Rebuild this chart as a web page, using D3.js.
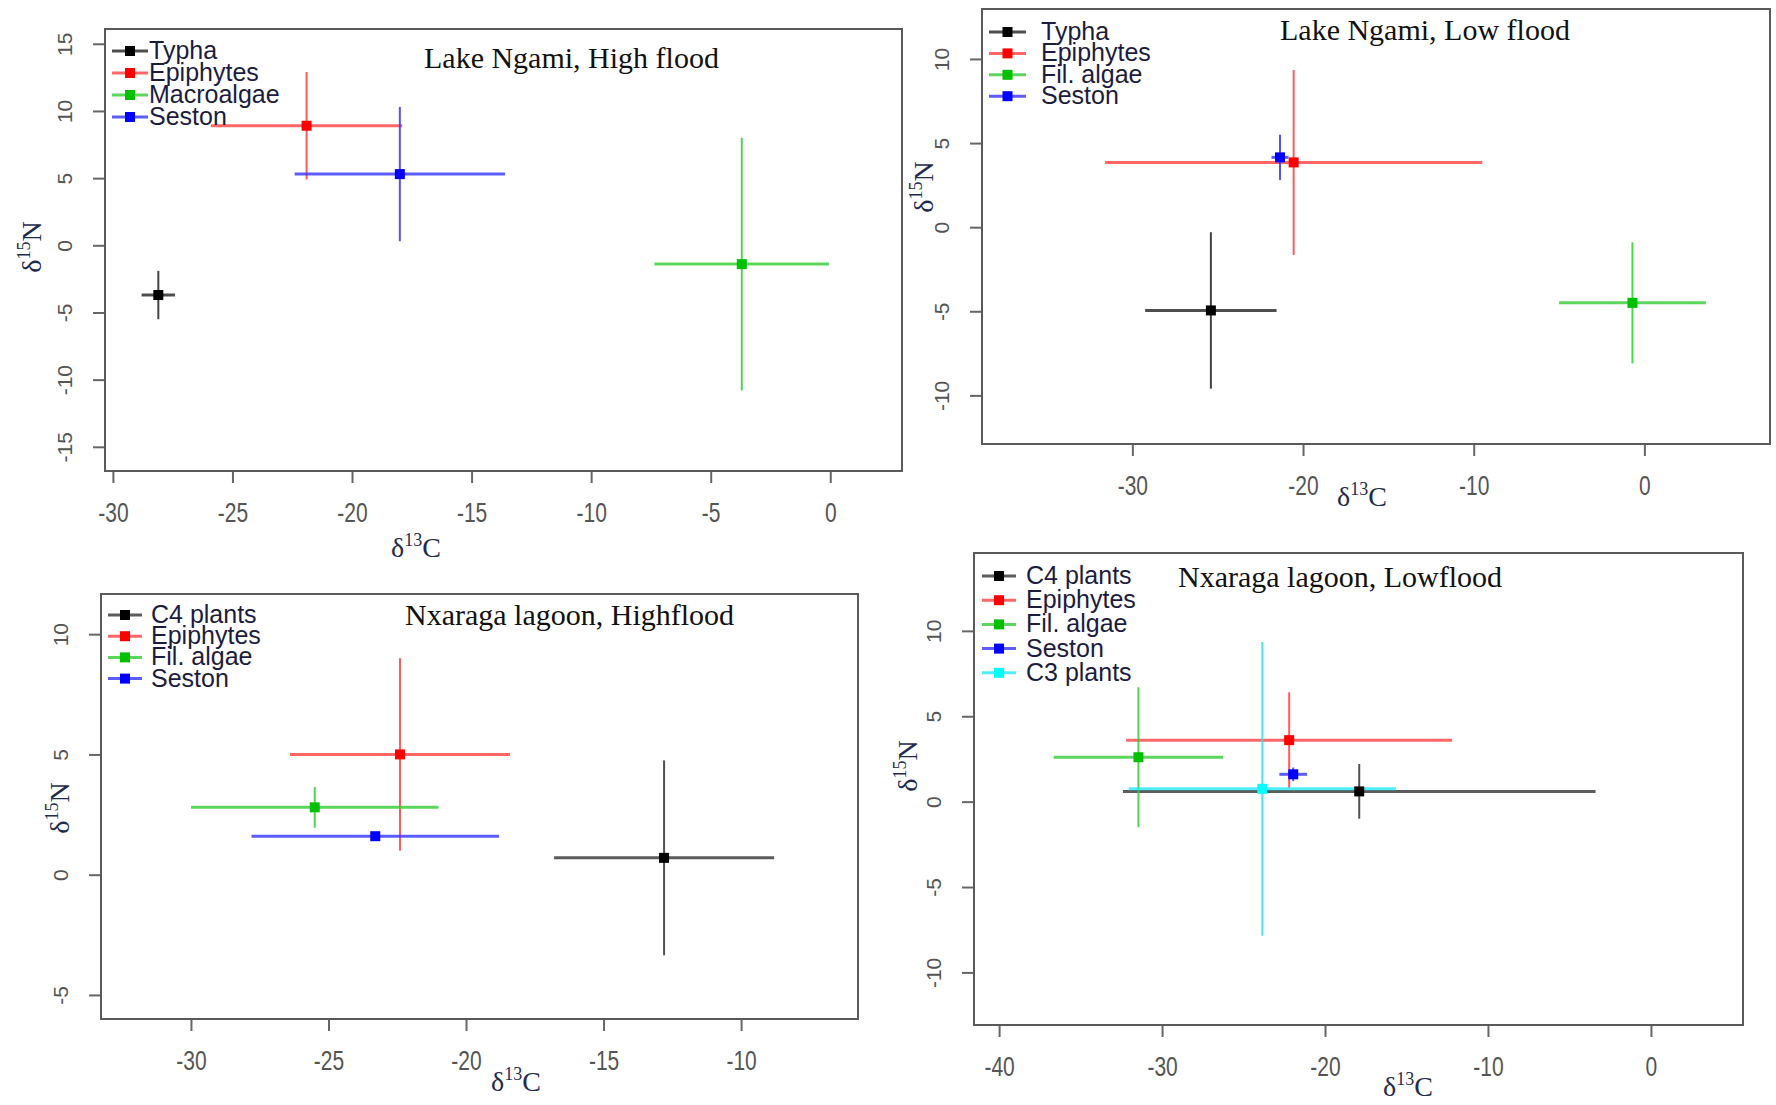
<!DOCTYPE html>
<html>
<head>
<meta charset="utf-8">
<script src="https://cdn.jsdelivr.net/npm/d3@7"></script>
<style>
  body { margin: 0; background: #fff; }
  text { font-family: 'Liberation Sans', Arial, sans-serif; }
  .serif { font-family: 'Liberation Serif', 'Times New Roman', serif; }
</style>
</head>
<body>
<svg id="chart" width="1776" height="1105"></svg>
<script>
// Lake Ngami, High flood
let ngamiHighGroups = ['Typha', 'Epiphytes', 'Macroalgae', 'Seston']
let ngamiHighC = [-28.1, -21.9, -3.7, -18.0]
let ngamiHighN = [-3.7, 8.9, -1.4, 5.3]
let ngamiHighSdC = [0.7, 4.0, 3.65, 4.4]
let ngamiHighSdN = [1.8, 4.0, 9.4, 5.0]
let ngamiHighXTicks = [-30, -25, -20, -15, -10, -5, 0]
let ngamiHighYTicks = [-15, -10, -5, 0, 5, 10, 15]

// Lake Ngami, Low flood
let ngamiLowGroups = ['Typha', 'Epiphytes', 'Fil. algae', 'Seston']
let ngamiLowC = [-25.4, -20.55, -0.7, -21.35]
let ngamiLowN = [-4.95, 3.85, -4.5, 4.15]
let ngamiLowSdC = [3.85, 11.05, 4.3, 0.5]
let ngamiLowSdN = [4.65, 5.5, 3.6, 1.35]
let ngamiLowXTicks = [-30, -20, -10, 0]
let ngamiLowYTicks = [-10, -5, 0, 5, 10]

// Nxaraga lagoon, High flood
let nxHighGroups = ['C4 plants', 'Epiphytes', 'Fil. algae', 'Seston']
let nxHighC = [-12.8, -22.4, -25.5, -23.3]
let nxHighN = [0.7, 5.0, 2.8, 1.6]
let nxHighSdC = [4.0, 4.0, 4.5, 4.5]
let nxHighSdN = [4.05, 4.0, 0.85, 0]
let nxHighXTicks = [-30, -25, -20, -15, -10]
let nxHighYTicks = [-5, 0, 5, 10]

// Nxaraga lagoon, Low flood
let nxLowGroups = ['C4 plants', 'Epiphytes', 'Fil. algae', 'Seston', 'C3 plants']
let nxLowC = [-17.9, -22.2, -31.45, -21.95, -23.85]
let nxLowN = [0.6, 3.6, 2.6, 1.6, 0.75]
let nxLowSdC = [14.5, 10.0, 5.2, 0.85, 8.2]
let nxLowSdN = [1.6, 2.8, 4.1, 0.4, 8.6]
let nxLowXTicks = [-40, -30, -20, -10, 0]
let nxLowYTicks = [-10, -5, 0, 5, 10]

let lineColors = {
  'Typha': '#222222', 'C4 plants': '#333333', 'Epiphytes': '#ff4040', 'Macroalgae': '#33cc33',
  'Fil. algae': '#33cc33', 'Seston': '#3535ff', 'C3 plants': '#22e8ff'
}
let pointColors = {
  'Typha': '#000000', 'C4 plants': '#000000', 'Epiphytes': '#ff0000', 'Macroalgae': '#00c000',
  'Fil. algae': '#00c000', 'Seston': '#0000ff', 'C3 plants': '#00ffff'
}

let panels = [
  {
    title: 'Lake Ngami, High flood', groups: ngamiHighGroups, c: ngamiHighC, n: ngamiHighN, sdC: ngamiHighSdC, sdN: ngamiHighSdN,
    xTicks: ngamiHighXTicks, yTicks: ngamiHighYTicks, box: [105, 29, 902, 471], xDomain: [-30.33, 3.0], yDomain: [-16.8, 16.1],
    titleAt: [424, 68], xLabelAt: [416, 557], yLabelAt: [32, 247], legend: { x0: 112, x1: 148, tx: 149, y0: 51, step: 22 }
  },
  {
    title: 'Lake Ngami, Low flood', groups: ngamiLowGroups, c: ngamiLowC, n: ngamiLowN, sdC: ngamiLowSdC, sdN: ngamiLowSdN,
    xTicks: ngamiLowXTicks, yTicks: ngamiLowYTicks, box: [982, 9, 1770, 444], xDomain: [-38.81, 7.36], yDomain: [-12.89, 12.97],
    titleAt: [1280, 40], xLabelAt: [1362, 506], yLabelAt: [924, 187], legend: { x0: 989, x1: 1026, tx: 1041, y0: 32, step: 21.4 }
  },
  {
    title: 'Nxaraga lagoon, Highflood', groups: nxHighGroups, c: nxHighC, n: nxHighN, sdC: nxHighSdC, sdN: nxHighSdN,
    xTicks: nxHighXTicks, yTicks: nxHighYTicks, box: [101, 594, 858, 1019], xDomain: [-33.27, -5.75], yDomain: [-6.0, 11.67],
    titleAt: [405, 625], xLabelAt: [516, 1091], yLabelAt: [60, 808], legend: { x0: 108, x1: 142, tx: 151, y0: 615, step: 21.2 }
  },
  {
    title: 'Nxaraga lagoon, Lowflood', groups: nxLowGroups, c: nxLowC, n: nxLowN, sdC: nxLowSdC, sdN: nxLowSdN,
    xTicks: nxLowXTicks, yTicks: nxLowYTicks, box: [974, 553, 1743, 1025], xDomain: [-41.54, 5.65], yDomain: [-13.08, 14.56],
    titleAt: [1178, 587], xLabelAt: [1408, 1096], yLabelAt: [908, 766], legend: { x0: 982, x1: 1016, tx: 1026, y0: 576, step: 24.2 }
  }
]

let svg = d3.select('#chart')

function deltaLabel (g, iso, el) {
  let t = g.append('text').attr('class', 'serif').attr('font-size', 28).attr('fill', '#1e2c4e')
    .attr('text-anchor', 'middle')
  t.append('tspan').text('δ')
  t.append('tspan').attr('font-size', 18).attr('dy', -11).text(iso)
  t.append('tspan').attr('dy', 11).text(el)
  return t
}

function drawPanel (p) {
  let [left, top, right, bottom] = p.box
  let x = d3.scaleLinear().domain(p.xDomain).range([left, right])
  let y = d3.scaleLinear().domain(p.yDomain).range([bottom, top])
  let g = svg.append('g')

  // R style axes: ticks outside the box, rotated y labels, plain hyphen minus
  let xAxis = g.append('g').attr('transform', `translate(0,${bottom})`)
    .call(d3.axisBottom(x).tickValues(p.xTicks).tickSize(12).tickFormat((d) => String(d)))
  xAxis.select('.domain').remove()
  xAxis.selectAll('.tick line').attr('stroke', '#666').attr('stroke-width', 2)
  xAxis.selectAll('.tick text').attr('y', 0).attr('dy', null).attr('fill', '#555').attr('font-size', 21)
    .attr('font-family', 'Liberation Sans, Arial, sans-serif')
    .attr('transform', 'translate(0,51) scale(1,1.35)')

  let yAxis = g.append('g').attr('transform', `translate(${left},0)`)
    .call(d3.axisLeft(y).tickValues(p.yTicks).tickSize(12).tickFormat((d) => String(d)))
  yAxis.select('.domain').remove()
  yAxis.selectAll('.tick line').attr('stroke', '#666').attr('stroke-width', 2)
  yAxis.selectAll('.tick text').attr('x', 0).attr('dy', null).attr('fill', '#555').attr('font-size', 21)
    .attr('font-family', 'Liberation Sans, Arial, sans-serif')
    .attr('text-anchor', 'middle').attr('transform', 'translate(-33,0) rotate(-90)')

  g.append('rect').attr('x', left).attr('y', top).attr('width', right - left).attr('height', bottom - top)
    .attr('fill', 'none').attr('stroke', '#5a5a5a').attr('stroke-width', 2)

  let rows = p.groups.map((name, i) => ({ name: name, c: p.c[i], n: p.n[i], sdC: p.sdC[i], sdN: p.sdN[i] }))

  let bars = g.append('g')
  rows.forEach((d) => {
    bars.append('line').attr('x1', x(d.c - d.sdC)).attr('x2', x(d.c + d.sdC)).attr('y1', y(d.n)).attr('y2', y(d.n))
      .attr('stroke', lineColors[d.name]).attr('stroke-width', 3).attr('stroke-opacity', 0.8)
    bars.append('line').attr('x1', x(d.c)).attr('x2', x(d.c)).attr('y1', y(d.n - d.sdN)).attr('y2', y(d.n + d.sdN))
      .attr('stroke', lineColors[d.name]).attr('stroke-width', 2).attr('stroke-opacity', 0.85)
  })
  g.append('g').selectAll('rect').data(rows).join('rect')
    .attr('x', (d) => x(d.c) - 5).attr('y', (d) => y(d.n) - 5).attr('width', 10).attr('height', 10)
    .attr('fill', (d) => pointColors[d.name])

  // legend
  let lg = g.append('g')
  p.groups.forEach((name, i) => {
    let ly = p.legend.y0 + i * p.legend.step
    lg.append('line').attr('x1', p.legend.x0).attr('x2', p.legend.x1).attr('y1', ly).attr('y2', ly)
      .attr('stroke', lineColors[name]).attr('stroke-width', 3).attr('stroke-opacity', 0.8)
    lg.append('rect').attr('x', (p.legend.x0 + p.legend.x1) / 2 - 5).attr('y', ly - 5).attr('width', 10).attr('height', 10)
      .attr('fill', pointColors[name])
    lg.append('text').attr('x', p.legend.tx).attr('y', ly + 8).attr('font-size', 25).attr('fill', '#1c1c40').text(name)
  })

  g.append('text').attr('class', 'serif').attr('x', p.titleAt[0]).attr('y', p.titleAt[1])
    .attr('font-size', 30).attr('fill', '#111').text(p.title)

  deltaLabel(g, '13', 'C').attr('x', p.xLabelAt[0]).attr('y', p.xLabelAt[1])
  deltaLabel(g, '15', 'N').attr('transform', `translate(${p.yLabelAt[0] + 9},${p.yLabelAt[1]}) rotate(-90)`)
}

panels.forEach(drawPanel)
</script>
</body>
</html>
